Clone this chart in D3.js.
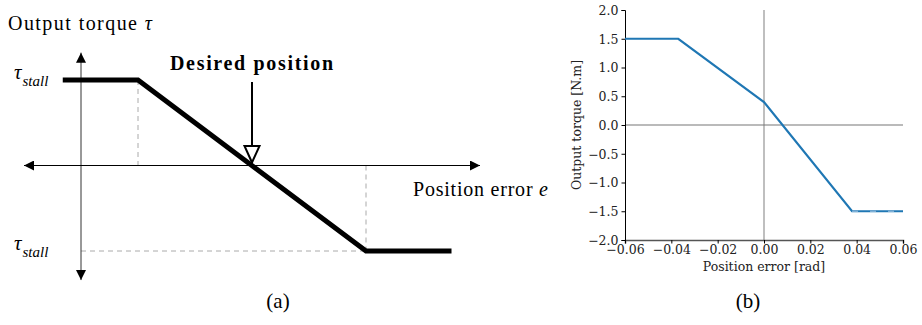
<!DOCTYPE html>
<html>
<head>
<meta charset="utf-8">
<script src="https://cdn.jsdelivr.net/npm/d3@7"></script>
<style>
  body { margin: 0; background: #fff; }
  svg { display: block; }
</style>
</head>
<body>
<script>
// (a) schematic: position error e vs output torque (normalised units)
var schemE = [-1.66, -1, 1, 1.75]
var schemTau = [1, 1, -1, -1]
var stallLevels = [1, -1]

// (b) measured curve
var errRad = [-0.06, -0.037, 0, 0.038, 0.06]
var torqueNm = [1.5, 1.5, 0.4, -1.5, -1.5]
var satErr = [0.038, 0.06]
var satTorque = [-1.5, -1.5]
var xTicks = [-0.06, -0.04, -0.02, 0, 0.02, 0.04, 0.06]
var yTicks = [-2.0, -1.5, -1.0, -0.5, 0.0, 0.5, 1.0, 1.5, 2.0]

var W = 922, H = 325
var texFont = "'Liberation Serif', 'DejaVu Serif', serif"
var mplFont = "'DejaVu Serif', serif"

var svg = d3.select("body").append("svg")
    .attr("width", W)
    .attr("height", H)

var defs = svg.append("defs")
defs.append("marker")
    .attr("id", "arr")
    .attr("viewBox", "0 0 10 10")
    .attr("refX", 10).attr("refY", 5)
    .attr("markerWidth", 12).attr("markerHeight", 10)
    .attr("markerUnits", "userSpaceOnUse")
    .attr("orient", "auto")
  .append("path")
    .attr("d", "M0,0 L10,5 L0,10 z")
    .attr("fill", "#000")

// ---------- (a) ----------
var ex = d3.scaleLinear().domain([-2, 2]).range([24, 480])
var ty = d3.scaleLinear().domain([1, -1]).range([80, 251])

var a = svg.append("g")

// dashed guides
a.append("line")
    .attr("x1", ex(-1)).attr("x2", ex(-1))
    .attr("y1", ty(1)).attr("y2", ty(0))
    .attr("stroke", "#aaa").attr("stroke-dasharray", "5,4")
a.append("line")
    .attr("x1", ex(1)).attr("x2", ex(1))
    .attr("y1", ty(0)).attr("y2", ty(-1))
    .attr("stroke", "#aaa").attr("stroke-dasharray", "5,4")
a.append("line")
    .attr("x1", ex(-1.5)).attr("x2", ex(1))
    .attr("y1", ty(-1)).attr("y2", ty(-1))
    .attr("stroke", "#aaa").attr("stroke-dasharray", "5,4")

// axes with arrows both ways
a.append("line")
    .attr("x1", ex(-1.5)).attr("x2", ex(-1.5))
    .attr("y1", ty(0)).attr("y2", ty(1.32))
    .attr("stroke", "#333").attr("marker-end", "url(#arr)")
a.append("line")
    .attr("x1", ex(-1.5)).attr("x2", ex(-1.5))
    .attr("y1", ty(0)).attr("y2", ty(-1.34))
    .attr("stroke", "#333").attr("marker-end", "url(#arr)")
a.append("line")
    .attr("x1", ex(0)).attr("x2", ex(2))
    .attr("y1", ty(0)).attr("y2", ty(0))
    .attr("stroke", "#000").attr("marker-end", "url(#arr)")
a.append("line")
    .attr("x1", ex(0)).attr("x2", ex(-2))
    .attr("y1", ty(0)).attr("y2", ty(0))
    .attr("stroke", "#000").attr("marker-end", "url(#arr)")

// thick characteristic
var schemLine = d3.line()
    .x(function(d, i) { return ex(schemE[i]) })
    .y(function(d, i) { return ty(schemTau[i]) })
a.append("path")
    .datum(schemE)
    .attr("d", schemLine)
    .attr("fill", "none")
    .attr("stroke", "#000")
    .attr("stroke-width", 5)

// desired position arrow
var px = ex(0)
a.append("line")
    .attr("x1", px).attr("x2", px)
    .attr("y1", 82).attr("y2", 146)
    .attr("stroke", "#000").attr("stroke-width", 2)
a.append("path")
    .attr("d", "M" + (px - 7.5) + ",146 L" + (px + 7.5) + ",146 L" + px + "," + (ty(0) - 3) + " z")
    .attr("fill", "#fff").attr("stroke", "#000").attr("stroke-width", 2)

a.append("text")
    .style("font-family", texFont)
    .attr("x", 170).attr("y", 70)
    .attr("font-size", 20).attr("font-weight", "bold")
    .attr("textLength", 163).attr("lengthAdjust", "spacing")
    .text("Desired position")

a.append("text")
    .style("font-family", texFont)
    .attr("x", 8).attr("y", 30)
    .attr("font-size", 20)
    .attr("textLength", 144).attr("lengthAdjust", "spacing")
    .html("Output torque <tspan font-style='italic'>τ</tspan>")

a.append("text")
    .style("font-family", texFont)
    .attr("x", 413).attr("y", 196)
    .attr("font-size", 20)
    .attr("textLength", 135).attr("lengthAdjust", "spacing")
    .html("Position error <tspan font-style='italic'>e</tspan>")

stallLevels.forEach(function(s) {
  var t = a.append("text")
      .style("font-family", texFont)
      .attr("x", 14).attr("y", ty(s) - 1)
      .attr("font-style", "italic")
  t.append("tspan").attr("font-size", 21).text("τ")
  t.append("tspan").attr("font-size", 15).attr("dy", 7).attr("dx", 1).text("stall")
})

a.append("text")
    .style("font-family", texFont)
    .attr("x", 278).attr("y", 308)
    .attr("font-size", 21)
    .attr("text-anchor", "middle")
    .text("(a)")

// ---------- (b) ----------
var x = d3.scaleLinear().domain([-0.06, 0.06]).range([625, 903])
var y = d3.scaleLinear().domain([-2, 2]).range([240, 10])

var b = svg.append("g")

b.append("line")
    .attr("x1", x(0)).attr("x2", x(0))
    .attr("y1", y(2)).attr("y2", y(-2))
    .attr("stroke", "#aaa").attr("stroke-width", 1.5)
b.append("line")
    .attr("x1", x(-0.06)).attr("x2", x(0.06))
    .attr("y1", y(0)).attr("y2", y(0))
    .attr("stroke", "#777").attr("stroke-width", 1.2)

var fmtX = function(d) { return d3.format(".2f")(d).replace("-", "\u2212") }
var fmtY = function(d) { return d3.format(".1f")(d).replace("-", "\u2212") }

var xAxis = b.append("g")
    .attr("transform", "translate(0," + y(-2) + ")")
    .call(d3.axisBottom(x).tickValues(xTicks).tickFormat(fmtX).tickSize(3.5).tickPadding(2))
xAxis.select(".domain").attr("stroke", "#555").attr("stroke-width", 1.5)

var yAxis = b.append("g")
    .attr("transform", "translate(" + x(-0.06) + ",0)")
    .call(d3.axisLeft(y).tickValues(yTicks).tickFormat(fmtY).tickSize(3.5).tickPadding(3))
yAxis.select(".domain").attr("stroke", "#000")

b.selectAll(".tick text")
    .style("font-family", mplFont)
    .style("font-size", "12.5px")
    .attr("fill", "#222")
yAxis.selectAll(".tick text").attr("dy", "0.34em")

var curve = d3.line()
    .x(function(d, i) { return x(errRad[i]) })
    .y(function(d, i) { return y(torqueNm[i]) })
b.append("path")
    .datum(errRad)
    .attr("d", curve)
    .attr("fill", "none")
    .attr("stroke", "#1f77b4")
    .attr("stroke-width", 2.2)

var satLine = d3.line()
    .x(function(d, i) { return x(satErr[i]) })
    .y(function(d, i) { return y(satTorque[i]) })
b.append("path")
    .datum(satErr)
    .attr("d", satLine)
    .attr("fill", "none")
    .attr("stroke", "#9fc3e2")
    .attr("stroke-width", 1)
    .attr("stroke-dasharray", "6,12")

b.append("text")
    .style("font-family", mplFont).style("font-size", "12.5px")
    .attr("x", x(0)).attr("y", 271)
    .attr("text-anchor", "middle")
    .attr("fill", "#222")
    .text("Position error [rad]")

b.append("text")
    .style("font-family", mplFont).style("font-size", "12.5px")
    .attr("transform", "translate(581," + y(0) + ") rotate(-90)")
    .attr("text-anchor", "middle")
    .attr("fill", "#222")
    .text("Output torque [N.m]")

svg.append("text")
    .style("font-family", texFont)
    .attr("x", 748).attr("y", 308)
    .attr("font-size", 21)
    .attr("text-anchor", "middle")
    .text("(b)")
</script>
</body>
</html>
